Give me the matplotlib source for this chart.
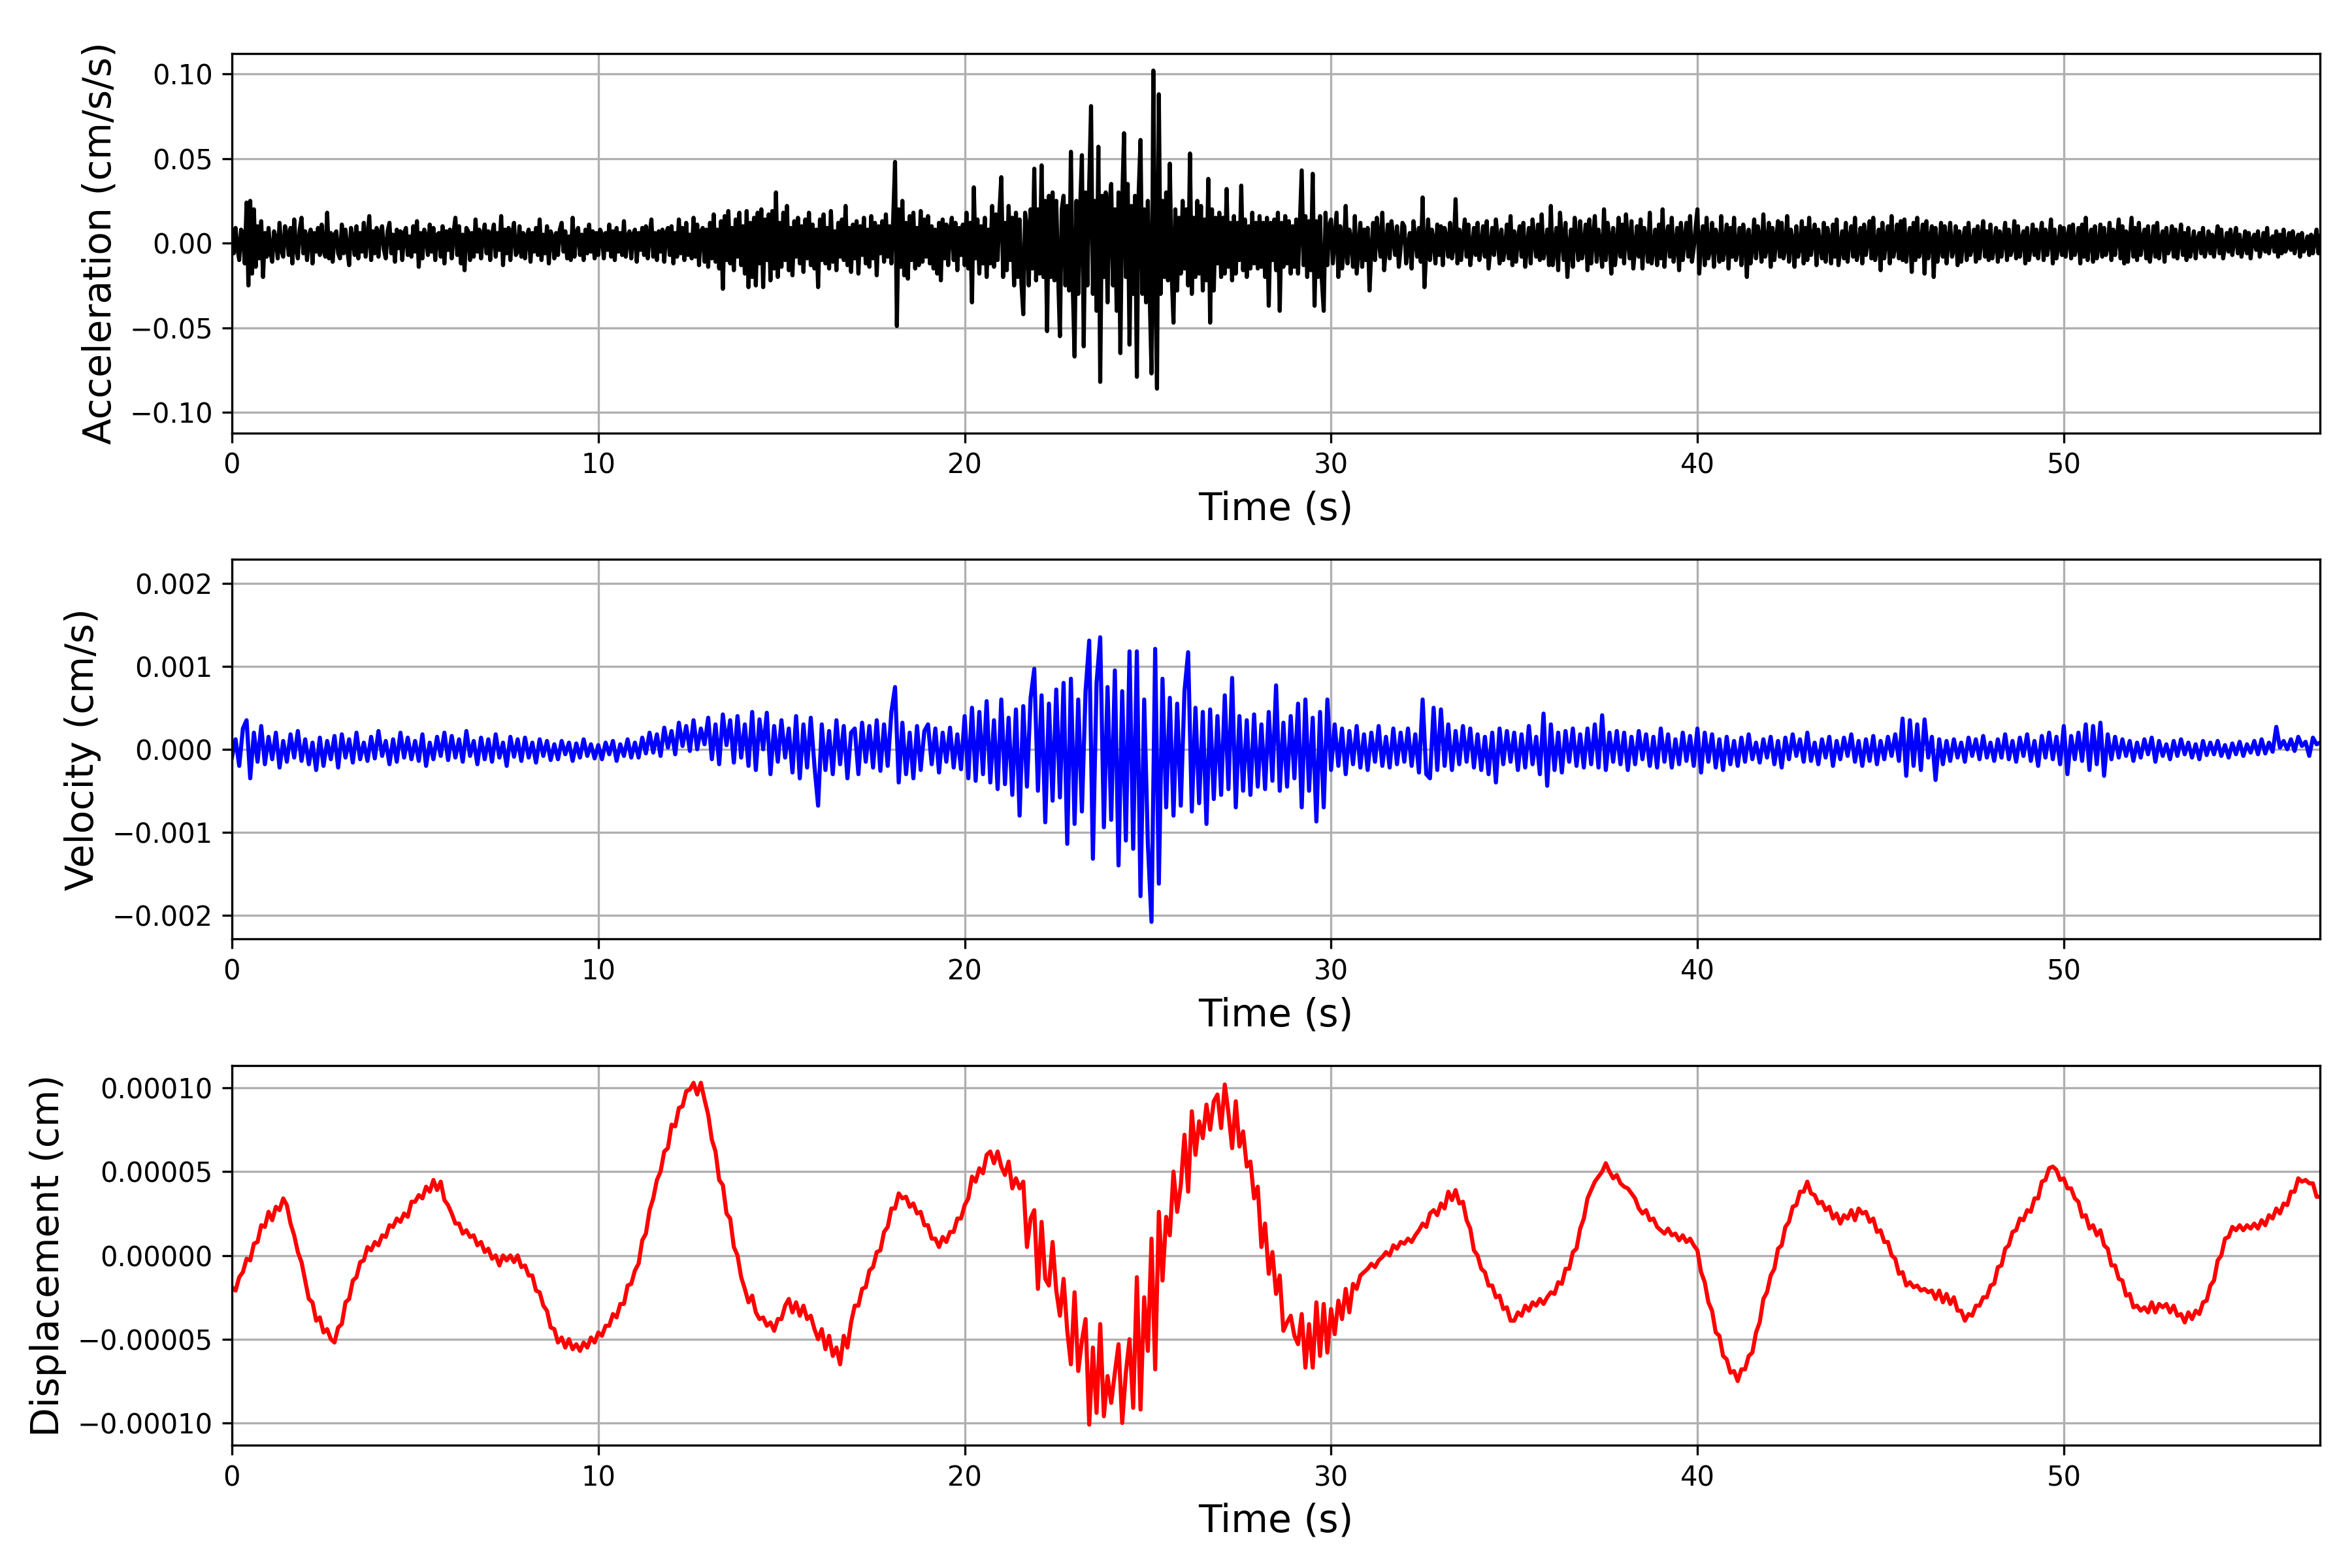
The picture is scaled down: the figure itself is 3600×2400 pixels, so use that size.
import numpy as np
import matplotlib
matplotlib.use("Agg")
import matplotlib.pyplot as plt

# sample intervals of the records (s)
DT_ACC = 0.05
DT = 0.1

# Acceleration, in units of 1e-3 cm/s/s (one row per second, 20 samples)
acc_milli = [
    4, -6, 9, -3, -10, 8, 6, -12, 24, -25, 25, -18, 20, -14, 10, -9, 13, -20, 6, -8,
    9, -5, -11, 7, 3, -9, 12, -4, -8, 10, 5, -7, 9, -12, 14, -3, -9, 8, 15, -6,
    7, -10, 4, 8, -12, 6, -5, 9, -7, 11, -4, -8, 18, -9, 6, -11, 5, 7, -6, -9,
    11, -6, 8, -4, -13, 9, 3, -7, 10, -9, 6, -5, 12, -8, 4, 16, -10, 7, -6, 9,
    -8, 6, 10, -4, -9, 7, 12, -6, 5, -11, 8, -3, 7, -10, 6, 9, -7, 4, -8, 10,
    -5, 13, -14, 6, -9, 8, 4, -7, 11, -5, 9, -10, 5, 6, -8, 10, -12, 7, -4, 8,
    -9, 6, 15, -7, 10, -12, 5, -16, 9, 7, -10, 6, -8, 14, -5, 8, -9, 4, 11, -6,
    7, -10, 5, 11, -8, 6, -4, 16, -13, 8, -6, 9, -10, 5, 12, -7, -5, 10, -8, 6,
    -9, 4, 8, -11, 6, -5, 9, -7, 14, -10, 5, -6, 10, -12, 7, 4, -9, 6, -7, 8,
    12, -5, 7, -9, 4, -10, 15, -8, 6, 9, -7, 5, -10, 8, -6, 11, -5, 7, -9, 6,
    -7, 8, 5, -9, 6, -4, 11, -8, 7, -10, 9, -5, 6, -7, 13, -8, 4, 7, -9, 5,
    8, -11, 6, -4, 9, -7, 10, -9, 5, 14, -8, 6, -10, 7, -5, 8, -11, 6, 9, -7,
    10, -12, 6, -8, 14, -6, 9, -10, 12, -7, 5, -9, 15, -8, 11, -13, 7, 9, -11, 8,
    -14, 12, -9, 17, -11, 8, -15, 13, -27, 16, -10, 19, -12, 9, -16, 14, -8, 18, -13, 10,
    -18, 19, -26, 12, -20, 15, -25, 18, -12, 20, -26, 14, -10, 17, -22, 19, -15, 30, -20, 12,
    -14, 18, -10, 22, -16, 9, -19, 13, -8, 15, -12, 10, -17, 14, -9, 18, -13, 11, -15, 8,
    -26, 14, -10, 17, -12, 9, -15, 19, -11, 7, -16, 12, -8, 14, -10, 22, -13, 9, -17, 11,
    -9, 13, -18, 10, -7, 15, -12, 8, -14, 16, -9, 12, -19, 10, -6, 13, -11, 17, -8, 10,
    -12, 15, 48, -49, 20, -14, 25, -19, 12, -21, 16, -10, 18, -15, 9, -13, 19, -11, 14, -8,
    16, -12, 10, -15, 8, -18, 12, -22, 14, -9, 11, -13, 7, 15, -10, 12, -16, 9, -7, 11,
    -13, 18, -15, 12, -35, 33, -9, 14, -18, 10, -12, 15, -20, 8, -12, 22, -14, 17, -10, 19,
    39, -20, 12, -16, 22, -10, 15, -25, 18, -20, 14, -24, -42, 18, 10, -25, 20, -15, 44, -22,
    20, -18, 46, -20, 25, -52, 28, -20, 30, -22, 25, -18, -55, 20, 28, -25, 22, -28, 54, -25,
    -67, 25, -30, 20, 52, -61, 30, -25, 35, 81, -30, 25, -40, 57, -82, 28, -20, 30, -35, 22,
    35, -25, 20, -40, 30, -65, 25, 65, -20, 35, -60, 22, -30, 28, -79, 30, 61, -30, 20, -35,
    25, -30, -77, 102, -20, -86, 88, -30, 25, -20, 30, -22, 47, -18, -47, 20, -28, 15, -18, 25,
    -15, 20, -25, 53, -30, 15, -20, 25, -18, 22, -28, 14, -22, 38, -47, 20, -28, 15, -12, 18,
    -20, 15, -18, 32, -14, 12, -22, 16, -18, 12, -10, 34, -16, 14, -20, 10, -15, 18, -12, 12,
    -15, 16, -14, 12, -20, 15, -37, 12, -10, 14, -16, 18, -40, 12, -14, 16, -12, 13, -18, 10,
    -14, 14, -18, 12, 43, -13, 16, -20, 13, -16, 41, -37, 13, -20, 16, -22, -40, 18, -13, 10,
    14, -12, 3, 18, -20, 10, -15, -4, 22, -12, 8, 2, -14, 16, -18, -3, 12, -14, 8, -10,
    9, -28, -5, 12, -10, 15, 3, -8, 18, -16, -2, 11, -9, 13, 2, -7, 10, -14, -3, 12,
    10, -12, -2, 6, -15, 13, 3, -8, 9, -11, 27, -26, -4, 14, -10, 8, 2, -12, 11, -7,
    10, -13, 9, 3, -8, 12, -9, -2, 26, -12, 8, -10, 2, 14, -8, 11, -13, -3, 9, -7,
    12, -10, -2, 10, -8, 13, -15, -3, 9, -7, 14, 2, -12, 8, -10, -3, 11, -9, 16, -13,
    7, -11, 3, 10, -8, 12, -14, -2, 9, -12, 14, 2, -8, 11, -10, 17, -9, -3, 8, -13,
    22, -13, -3, 9, -16, 18, 2, -10, 12, -20, -3, 8, -14, 15, 2, -10, 13, -9, -2, 11,
    -16, 14, -12, 3, 16, -11, 8, -2, -14, 20, -10, 12, 3, -18, 9, -13, -2, 15, -8, 11,
    -12, 17, 2, -9, 13, -15, -3, 10, -8, 14, -15, 9, 2, -11, 18, -12, -3, 8, -13, 11,
    -9, 20, -14, 3, 10, -8, 15, -11, -2, 9, -16, 12, -10, 2, 12, -8, 16, -11, -3, 9,
    20, -18, 2, 10, -13, 15, -9, -3, 12, -14, 8, 2, -11, 16, -10, -2, 11, -15, 9, -8,
    15, -10, -3, 9, -13, 11, 2, -20, 8, -12, -2, 14, -9, 10, 3, -11, 17, -8, -2, 12,
    -14, 9, -10, 2, 13, -8, 12, -9, -3, 16, -11, 8, 2, -14, 10, -8, -2, 13, -12, 9,
    -10, 15, -7, 3, 11, -13, 8, -2, -9, 12, -11, 9, 2, -12, 11, -8, 14, -13, -3, 7,
    -9, 12, -11, 2, 10, -8, 15, -10, -3, 9, -12, 11, -7, 2, 13, -9, 15, -10, -2, 8,
    -16, 12, -9, 3, 10, -12, 16, -8, -2, 11, -9, 13, -10, 14, -11, 2, 9, -17, 12, -10,
    15, -8, -2, 11, -18, 13, -9, 2, 10, -20, 9, -11, -3, 12, -8, 10, -12, 2, 12, -8,
    -3, 10, -13, 7, -11, 2, 9, -10, 12, -7, -2, 8, -11, 10, -9, 3, 13, -8, 7, -10,
    11, -9, -2, 9, -11, 7, -8, 2, 12, -10, 8, -7, -3, 13, -9, 10, -8, 2, 7, -12,
    9, -10, -2, 11, -7, 8, -9, 3, 12, -10, 8, -7, 2, 14, -12, 8, -9, -2, 10, -7,
    9, -8, 3, 10, -9, 11, -7, -2, 9, -12, 11, -8, 15, -10, 2, 8, -11, 10, -9, -2,
    11, -8, 9, -7, -2, 12, -10, 8, -7, 3, 14, -9, 10, -12, 7, -11, 2, 15, -8, 9,
    -10, 12, -7, 2, 8, -9, 10, -11, -2, 10, -8, 12, -9, 2, 7, -11, 9, -6, -2, 10,
    -8, 8, -9, 2, 11, -7, 6, -10, 9, -8, -2, 7, -9, 2, 6, -6, 9, -8, -2, 7,
    -6, 5, -8, 2, 10, -6, 8, -9, -2, 6, -5, 8, -7, 2, 9, -6, 5, -8, -2, 7,
    -6, 6, -9, 2, 5, -4, 7, -8, -2, 6, -5, 9, -6, 2, 4, -5, 7, -8, 5, -6,
    8, -5, -2, 6, -4, 7, -6, 2, 5, -8, 6, -5, -2, 4, -7, 5, -6, 2, 8, -6,
    4,
]

# Velocity, in units of 1e-5 cm/s (one row per second, 10 samples)
vel_e5 = [
    -10, 12, -20, 25, 35, -35, 20, -15, 28, -18,
    15, -12, 20, -22, 10, -15, 18, -10, 22, -14,
    12, -18, 8, -25, 14, -20, 10, -12, 16, -22,
    18, -10, 12, -16, 20, -12, 8, -14, 15, -11,
    22, -8, 10, -18, 12, -15, 20, -10, 14, -12,
    10, -14, 18, -20, 8, -12, 15, -8, 20, -13,
    16, -10, 12, -15, 22, -8, 10, -18, 14, -12,
    12, -15, 18, -10, 8, -20, 15, -9, 12, -14,
    14, -10, 8, -16, 12, -8, 10, -13, 6, -12,
    10, -6, 8, -14, 7, -10, 12, -8, 6, -11,
    5, -12, 8, -6, 10, -14, 6, -8, 12, -10,
    8, -10, 14, -5, 20, -4, 18, -8, 26, 2,
    22, -6, 32, 4, 28, -2, 35, 0, 25, 6,
    38, -12, 30, -18, 42, 5, 35, -16, 40, -10,
    30, -20, 45, -25, 36, 0, 44, -30, 28, -15,
    35, -10, 25, -28, 40, -35, 30, -22, 38, -20,
    -68, 30, -25, 22, -30, 35, -18, 28, -35, 20,
    25, -30, 32, -15, 28, -22, 35, -26, 30, -20,
    45, 75, -40, 32, -30, 20, -35, 28, -25, 22,
    30, -18, 25, -28, 20, -15, 26, -22, 18, -24,
    40, -35, 50, -38, 45, -30, 58, -40, 35, -48,
    60, -42, 38, -55, 48, -80, 52, -45, 62, 97,
    -50, 65, -88, 55, -62, 72, -58, 80, -114, 85,
    -90, 60, -75, 70, 131, -132, 80, 135, -94, 75,
    -85, 95, -140, 70, -110, 118, -120, 118, -177, 60,
    -113, -208, 121, -162, 85, -70, 62, -80, 55, -68,
    70, 117, -75, 50, -65, 45, -90, 48, -60, 40,
    -55, 65, -48, 86, -70, 40, -50, 35, -55, 42,
    -45, 30, -48, 45, -38, 77, -50, 32, -45, 40,
    -35, 55, -70, 60, -50, 38, -87, 45, -70, 60,
    -25, 30, -20, 25, -30, 22, -18, 28, -22, 18,
    -25, 20, -15, 28, -20, 15, -22, 25, -18, 20,
    -15, 25, -20, 18, -28, 60, -30, -35, 50, -25,
    48, -20, 30, -25, 22, -18, 28, -15, 25, -22,
    18, -25, 15, -30, 20, -40, 25, -18, 22, -15,
    20, -25, 18, -22, 28, -18, 15, -30, 43, -44,
    30, -25, 20, -28, 22, -15, 25, -20, 18, -22,
    25, -18, 30, -22, 41, -25, 20, -15, 22, -18,
    20, -25, 15, -18, 22, -12, 18, -20, 15, -22,
    25, -15, 18, -22, 12, -18, 20, -14, 16, -20,
    25, -28, 20, -15, 18, -22, 12, -25, 15, -18,
    10, -20, 14, -15, 18, -12, 8, -16, 12, -10,
    15, -18, 10, -22, 14, -12, 18, -8, 12, -15,
    20, -14, 8, -18, 12, -10, 15, -20, 10, -12,
    14, -8, 18, -15, 10, -20, 12, -14, 16, -18,
    10, -12, 15, -8, 18, -14, 37, -32, 35, -20,
    30, -25, 36, -10, 15, -37, 12, -18, 10, -14,
    12, -10, 8, -15, 14, -8, 12, -12, 16, -10,
    8, -14, 12, -10, 18, -12, 10, -15, 14, -8,
    18, -14, 10, -20, 16, -10, 20, -12, 15, -18,
    28, -30, 16, -12, 20, -14, 30, -25, 28, -18,
    32, -32, 18, -12, 15, -10, 12, -8, 10, -14,
    8, -10, 12, -6, 14, -15, 10, -8, 6, -12,
    10, -8, 12, -6, 8, -10, 6, -12, 10, -7,
    8, -6, 10, -8, 5, -10, 7, -6, 9, -8,
    6, -4, 10, -6, 12, -5, 8, -3, 27, 2,
    10, 0, 12, -2, 15, 4, 9, -8, 14, 6,
    8,
]

# Displacement, in units of 1e-6 cm (one row per second, 10 samples)
disp_e6 = [
    -19, -21, -13, -10, -2, -3, 7, 8, 18, 17,
    26, 21, 29, 27, 34, 30, 19, 12, 2, -4,
    -15, -26, -28, -39, -37, -46, -44, -50, -52, -43,
    -41, -28, -26, -15, -13, -4, -3, 5, 3, 8,
    6, 12, 11, 18, 17, 22, 20, 25, 23, 32,
    32, 36, 34, 41, 38, 45, 39, 44, 33, 30,
    25, 19, 19, 13, 15, 11, 12, 6, 8, 2,
    4, -2, 0, -6, 0, -3, 0, -4, 0, -7,
    -6, -12, -12, -21, -22, -30, -33, -43, -44, -52,
    -49, -55, -50, -56, -53, -57, -52, -55, -49, -52,
    -46, -48, -42, -42, -35, -37, -29, -29, -18, -17,
    -9, -5, 9, 13, 27, 34, 45, 50, 62, 64,
    78, 77, 88, 89, 98, 99, 103, 96, 103, 93,
    84, 69, 62, 45, 42, 25, 22, 5, 0, -13,
    -20, -28, -24, -34, -38, -37, -42, -40, -45, -38,
    -38, -30, -26, -34, -28, -36, -30, -38, -36, -44,
    -50, -44, -56, -48, -60, -55, -65, -48, -55, -40,
    -30, -30, -20, -19, -9, -7, 2, 3, 14, 17,
    28, 28, 37, 34, 35, 29, 31, 25, 26, 18,
    18, 10, 10, 5, 11, 8, 14, 14, 22, 22,
    30, 34, 47, 44, 52, 49, 60, 62, 55, 62,
    53, 48, 56, 40, 46, 40, 44, 5, 22, 27,
    -20, 20, -14, -18, 8, -21, -36, -14, -45, -65,
    -22, -69, -51, -38, -101, -55, -94, -41, -96, -72,
    -88, -70, -53, -100, -70, -50, -91, -13, -92, -25,
    -57, 10, -68, 26, -15, 23, 12, 50, 26, 42,
    72, 38, 86, 60, 80, 70, 90, 75, 92, 96,
    76, 102, 85, 64, 92, 65, 74, 53, 56, 34,
    41, 5, 19, -11, 2, -23, -12, -45, -40, -36,
    -48, -53, -35, -67, -41, -67, -28, -60, -29, -58,
    -32, -47, -27, -38, -20, -34, -17, -20, -12, -10,
    -8, -5, -7, -3, -1, 2, 0, 6, 4, 8,
    7, 10, 8, 12, 15, 19, 17, 25, 27, 24,
    31, 28, 38, 33, 39, 31, 32, 21, 16, 3,
    0, -8, -10, -18, -18, -25, -24, -32, -31, -39,
    -39, -34, -36, -30, -33, -28, -30, -26, -29, -25,
    -22, -23, -16, -17, -8, -8, 2, 4, 16, 22,
    34, 39, 44, 47, 50, 55, 50, 46, 48, 43,
    41, 40, 37, 34, 28, 25, 27, 21, 22, 17,
    15, 13, 16, 12, 13, 9, 12, 8, 10, 6,
    3, -10, -16, -28, -33, -46, -48, -60, -62, -70,
    -69, -75, -68, -68, -60, -58, -46, -40, -26, -22,
    -12, -8, 4, 6, 17, 20, 29, 30, 38, 38,
    44, 37, 36, 31, 32, 27, 29, 22, 25, 19,
    24, 22, 27, 21, 28, 25, 26, 20, 22, 14,
    15, 8, 8, 0, -2, -11, -10, -18, -16, -19,
    -18, -21, -20, -22, -21, -26, -21, -28, -23, -29,
    -25, -33, -33, -39, -35, -36, -30, -30, -25, -25,
    -18, -17, -7, -6, 4, 6, 14, 15, 22, 21,
    27, 26, 34, 34, 44, 45, 52, 53, 51, 45,
    46, 40, 40, 34, 32, 23, 24, 16, 18, 12,
    15, 6, 4, -6, -6, -14, -15, -24, -23, -31,
    -30, -33, -31, -34, -28, -34, -29, -31, -29, -34,
    -30, -36, -35, -40, -34, -38, -33, -35, -28, -27,
    -18, -15, -3, 0, 10, 11, 17, 15, 18, 15,
    18, 16, 19, 16, 21, 18, 24, 22, 28, 25,
    31, 30, 38, 38, 46, 44, 45, 43, 43, 35,
    35,
]

acc = np.array(acc_milli) * 1e-3
vel = np.array(vel_e5) * 1e-5
disp = np.array(disp_e6) * 1e-6

panels = [
    (acc, DT_ACC, "black", "Acceleration (cm/s/s)"),
    (vel, DT, "blue", "Velocity (cm/s)"),
    (disp, DT, "red", "Displacement (cm)"),
]

fig, axes = plt.subplots(3, 1, figsize=(12, 8), dpi=300)
fig.subplots_adjust(left=0.0986, right=0.9865, top=0.966, bottom=0.0783, hspace=0.333)

for ax, (y, dt, col, lab) in zip(axes, panels):
    t = np.arange(len(y)) * dt
    ax.plot(t, y, color=col, linewidth=1.5)
    lim = 1.1 * np.max(np.abs(y))
    ax.set_ylim(-lim, lim)
    ax.set_xlim(0, 57.0)
    ax.grid(True)
    ax.set_xlabel("Time (s)", fontsize=14)
    ax.set_ylabel(lab, fontsize=14)

fig.savefig("out.png", dpi=300)
